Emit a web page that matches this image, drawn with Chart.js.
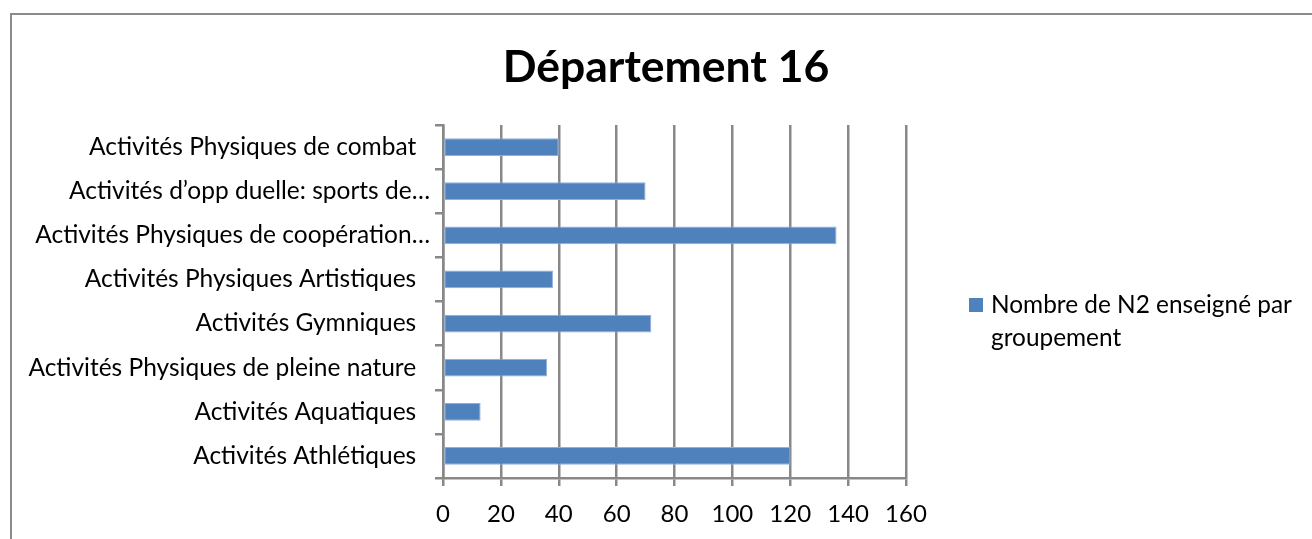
<!DOCTYPE html>
<html>
<head>
<meta charset="utf-8">
<script src="https://cdn.jsdelivr.net/npm/chart.js@4"></script>
<style>
  html, body { margin: 0; padding: 0; background: #fff; overflow: hidden; }
  #wrap { position: relative; width: 1312px; height: 539px; }
  #frame {
    position: absolute; left: 10px; top: 13px; width: 1400px; height: 600px;
    border-left: 2px solid #8a8a8a; border-top: 2px solid #8a8a8a;
    pointer-events: none;
  }
  canvas { position: absolute; left: 0; top: 0; }
</style>
</head>
<body>
<div id="wrap">
  <div id="frame"></div>
  <canvas id="chart" width="1312" height="539"></canvas>
</div>
<script>
// données (de haut en bas)
const categories = [
  'Activités Physiques de combat\u2002\u200A',
  'Activités d\u2019opp duelle: sports de\u2026',
  'Activités Physiques de coopération\u2026',
  'Activités Physiques Artistiques\u2002\u200A',
  'Activités Gymniques\u2002\u200A',
  'Activités Physiques de pleine nature\u2002\u200A',
  'Activités Aquatiques\u2002\u200A',
  'Activités Athlétiques\u2002\u200A'
];
const valeurs = [40, 70, 136, 38, 72, 36, 13, 120];
const titre = 'Département 16';
const serieLabel = 'Nombre de N2 enseigné par groupement';
const xMin = 0, xMax = 160, xStep = 20;

const bleu = '#4F81BD';
const gris = '#888888';

Chart.defaults.font.family = 'Lato';
Chart.defaults.color = '#000';

// titre + légende dessinés à la main (légende sur deux lignes)
const decorPlugin = {
  id: 'decor',
  afterDraw(chart) {
    const ctx = chart.ctx;
    ctx.save();
    ctx.fillStyle = '#000';
    ctx.font = 'bold 44.5px Lato';
    ctx.textAlign = 'center';
    ctx.textBaseline = 'middle';
    ctx.fillText(titre, 666, 68);

    // légende
    const ds = chart.data.datasets[0];
    ctx.fillStyle = ds.backgroundColor;
    ctx.fillRect(969, 298, 14, 14);
    ctx.fillStyle = '#000';
    ctx.font = '24.4px Lato';
    ctx.textAlign = 'left';
    const words = ds.label.split(' ');
    const lines = [];
    let cur = '';
    words.forEach(w => {
      const test = cur ? cur + ' ' + w : w;
      if (ctx.measureText(test).width > 315 && cur) {
        lines.push(cur);
        cur = w;
      } else {
        cur = test;
      }
    });
    lines.push(cur);
    lines.forEach((l, i) => ctx.fillText(l, 991, 305 + i * 33));
    ctx.restore();
  }
};

new Chart(document.getElementById('chart'), {
  type: 'bar',
  data: {
    labels: categories,
    datasets: [{
      label: serieLabel,
      data: valeurs,
      backgroundColor: bleu,
      borderColor: '#8fb0d8',
      borderWidth: 1,
      borderSkipped: false,
      barPercentage: 0.4,
      categoryPercentage: 1
    }]
  },
  options: {
    indexAxis: 'y',
    responsive: false,
    animation: false,
    layout: { padding: { left: 0, top: 125, right: 406, bottom: 0 } },
    plugins: {
      legend: { display: false },
      title: { display: false },
      tooltip: { enabled: false }
    },
    scales: {
      x: {
        min: xMin,
        max: xMax,
        ticks: { stepSize: xStep, font: { size: 24 }, padding: 14, maxRotation: 0 },
        grid: { color: gris, lineWidth: 2.5, tickLength: 8 },
        border: { color: gris, width: 2.5 },
        afterFit(scale) { scale.height = 61; }
      },
      y: {
        ticks: { font: { size: 24.5 }, padding: 5, autoSkip: false },
        grid: { drawOnChartArea: false, color: gris, lineWidth: 2.5, tickLength: 8 },
        border: { color: gris, width: 2.5 },
        afterFit(scale) { scale.width = 443; }
      }
    }
  },
  plugins: [decorPlugin]
});
</script>
</body>
</html>
